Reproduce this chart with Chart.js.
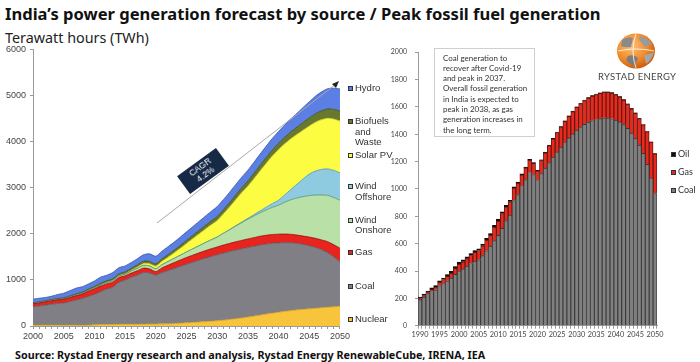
<!DOCTYPE html>
<html><head><meta charset="utf-8">
<script src="https://cdn.jsdelivr.net/npm/chart.js@4.4.1/dist/chart.umd.min.js"></script>
<style>
html,body{margin:0;padding:0;background:#fff;}
body{width:700px;height:362px;overflow:hidden;position:relative;font-family:"Liberation Sans",Arial,sans-serif;color:#222;}
.abs{position:absolute;white-space:nowrap;}
#title{left:5px;top:2px;font-family:"Noto Sans",sans-serif;font-weight:bold;font-size:17px;color:#111;}
#subtitle{left:5px;top:28px;font-family:"Noto Sans",sans-serif;font-size:14px;color:#222;}
#source{left:15px;top:347px;font-family:"Noto Sans",sans-serif;font-weight:bold;font-size:10.5px;color:#111;}
canvas{position:absolute;}
.lg{position:absolute;font-size:9.5px;line-height:10.5px;color:#333;white-space:nowrap;}
.mk{position:absolute;width:5px;height:5px;border:1px solid #333;box-sizing:border-box;}
#note{left:434px;top:48px;width:101px;height:89px;border:1px solid #cfcfcf;box-sizing:border-box;
 font-family:Lato,sans-serif;font-size:8.4px;line-height:10.3px;color:#333;padding:3.5px 0 0 8px;white-space:nowrap;}
#cagr{left:179px;top:160px;width:48px;height:22px;background:#172a45;color:#fff;transform:rotate(-36deg);
 font-size:8.5px;line-height:9.5px;text-align:center;padding-top:1.5px;box-sizing:border-box;}
.rl{position:absolute;font-family:Lato,sans-serif;font-size:9px;line-height:10px;color:#333;white-space:nowrap;}
#brand{left:598px;top:71px;font-family:Lato,sans-serif;font-size:9.5px;color:#444;letter-spacing:0.3px;}
</style>
</head><body>
<div id="title" class="abs">India’s power generation forecast by source / Peak fossil fuel generation</div>
<div id="subtitle" class="abs">Terawatt hours (TWh)</div>
<div id="source" class="abs">Source: Rystad Energy research and analysis, Rystad Energy RenewableCube, IRENA, IEA</div>

<canvas id="left" width="352" height="310" style="left:0;top:40px;width:352px;height:310px"></canvas>
<canvas id="right" width="300" height="310" style="left:370px;top:40px;width:300px;height:310px"></canvas>

<svg class="abs" style="left:0;top:0" width="700" height="362">
  <line x1="157" y1="223" x2="336" y2="84" stroke="#a8a8a8" stroke-width="1"/>
  <polygon points="339,81 332,84 336,88" fill="#222"/>
  <defs><radialGradient id="gl" cx="38%" cy="35%" r="70%"><stop offset="0" stop-color="#fcc27a"/><stop offset="0.6" stop-color="#f08a2a"/><stop offset="1" stop-color="#c8560a"/></radialGradient></defs>
  <ellipse cx="636" cy="51" rx="19" ry="17.5" fill="url(#gl)"/>
  <path d="M622,40 Q628,36 633,38 L631,47 Q625,48 621,46 Z" fill="#8a8a8a"/>
  <path d="M640,36 Q648,38 652,44 L645,47 Q641,42 639,40 Z" fill="#9a9a9a"/>
  <path d="M628,56 Q634,54 638,58 L635,66 Q629,64 626,60 Z" fill="#7d7d7d"/>
  <path d="M644,55 Q650,54 654,52 Q652,60 646,64 Z" fill="#a5a5a5"/>
  <path d="M636,34 Q630,51 636,68" stroke="#fff" stroke-width="0.8" fill="none"/>
  <path d="M618,51 Q636,47 654,51" stroke="#fff" stroke-width="0.8" fill="none"/>
</svg>
<div id="brand" class="abs">RYSTAD ENERGY</div>

<div id="cagr" class="abs">CAGR<br>4.2%</div>

<div id="note" class="abs"><span>Coal generation to</span><br><span>recover after Covid-19</span><br><span>and peak in 2037.</span><br><span id="wide">Overall fossil generation</span><br><span>in India is expected to</span><br><span>peak in 2038, as gas</span><br><span>generation increases in</span><br><span>the long term.</span></div>

<div id="legendL"></div>
<div id="legendR"></div>

<script>
// ---------- DATA ----------
const yearsR = [];            // 1990..2050 categories for the right chart
for (let y = 1990; y <= 2050; y++) yearsR.push(y);
const yearsL = yearsR.slice(10);   // 2000..2050

const coal = [190,208,228,250,262,292,308,328,348,375,
  400,415,435,455,472,482,512,548,582,622,
  660,712,768,808,915,958,1018,1068,1120,1105,
  1062,1112,1152,1192,1232,1270,1305,1340,1373,1403,
  1430,1453,1472,1488,1500,1508,1514,1520,1519,1513,
  1503,1490,1470,1443,1408,1368,1320,1260,1180,1080,966];
const gas = [8,12,14,16,20,26,30,33,36,44,
  50,52,55,58,64,68,72,78,80,98,
  105,108,100,98,92,84,85,86,90,82,
  70,96,112,124,134,142,148,154,158,162,
  166,170,173,176,179,182,185,187,188,188,
  186,183,180,176,178,185,193,208,238,262,290];
const oil = [12,12,12,11,11,11,11,12,14,14,
  15,14,14,14,14,13,13,12,12,14,
  14,12,12,10,9,8,7,6,6,5,
  5,5,5,5,4,4,4,4,4,4,
  4,4,4,4,3,3,3,3,3,3,
  3,3,3,3,3,3,3,2,2,2,2];

const nuclear = [17,19,19,18,17,17,18,17,15,19,
  26,33,33,34,36,38,38,38,39,45,
  43,47,50,55,62,70,78,86,95,105,
  115,128,142,158,175,195,215,237,258,280,
  300,318,335,350,362,373,385,397,408,418,430];
const windOnshore = [2,3,4,5,6,7,9,12,14,17,
  20,24,28,31,33,35,45,53,60,64,
  62,70,80,92,105,120,137,155,175,195,
  215,255,295,340,385,430,470,510,550,590,
  630,690,750,805,855,900,940,975,1005,1025,1040];
const windOffshore = [0,0,0,0,0,0,0,0,0,0,
  0,0,0,0,0,0,0,0,0,0,
  0,0,0,0,0,0,0,0,0,0,
  0,2,5,8,12,18,28,42,60,82,
  107,160,225,300,385,466,520,555,575,588,595];
const solarPV = [0,0,0,0,0,0,0,0,0,0,
  1,2,4,5,6,8,15,28,42,50,
  58,75,95,120,150,185,220,255,290,325,
  360,420,490,565,640,700,785,870,955,1035,
  1100,1110,1100,1080,1060,1045,1060,1080,1100,1115,1125];
const biofuels = [20,21,22,23,24,25,26,28,30,31,
  32,34,36,38,40,42,44,46,48,50,
  48,52,55,58,62,66,70,74,78,82,
  86,90,95,100,105,110,115,120,125,130,
  135,142,150,158,166,175,183,192,200,208,215];
const hydro = [78,78,70,72,86,100,115,125,118,110,
  118,135,120,138,135,130,125,135,140,165,
  165,165,172,175,180,185,190,196,202,208,
  214,218,222,226,230,234,238,242,246,250,
  255,265,280,300,325,350,380,410,440,460,480];

// left chart coal / gas follow the right chart's fossil series (gas incl. oil)
const coalL = coal.slice(10);
const gasL = gas.slice(10).map((g, i) => g + oil[i + 10]);

const leftTicksY = [0,1000,2000,3000,4000,5000,6000];
const rightTicksY = [0,200,400,600,800,1000,1200,1400,1600,1800,2000];

// ---------- TEXT FITTING ----------
function fit(id, w) {
  const el = document.getElementById(id);
  const cur = el.getBoundingClientRect().width;
  const fs = parseFloat(getComputedStyle(el).fontSize);
  el.style.fontSize = (fs * w / cur) + 'px';
}
fit('title', 596); fit('subtitle', 144); fit('source', 471);
(function () {
  const note = document.getElementById('note');
  const w = document.getElementById('wide').getBoundingClientRect().width;
  const fs = parseFloat(getComputedStyle(note).fontSize);
  note.style.fontSize = (fs * 84 / w) + 'px';
})();

// ---------- LEGENDS ----------
const leftLegend = [
  ['Hydro', '#5b7fe3', 88],
  ['Biofuels<br>and<br>Waste', '#68782c', 121.5],
  ['Solar PV', '#fcfc42', 155],
  ['Wind<br>Offshore', '#8fcbe0', 186.7],
  ['Wind<br>Onshore', '#b9e0a6', 220],
  ['Gas', '#e8241e', 252.7],
  ['Coal', '#7f7f85', 286],
  ['Nuclear', '#f8c43c', 319.3]
];
let h = '';
leftLegend.forEach(([t, c, y]) => {
  h += `<div class="mk" style="left:348px;top:${y - 2.5}px;background:${c}"></div>`;
  h += `<div class="lg" style="left:355px;top:${y - 5.5}px">${t}</div>`;
});
document.getElementById('legendL').innerHTML = h;
const rightLegend = [['Oil', '#111', 154], ['Gas', '#e52b1e', 172.7], ['Coal', '#7f7f7f', 190.7]];
h = '';
rightLegend.forEach(([t, c, y]) => {
  h += `<div class="mk" style="left:671px;top:${y - 2.5}px;background:${c}"></div>`;
  h += `<div class="rl" style="left:678px;top:${y - 5.5}px">${t}</div>`;
});
document.getElementById('legendR').innerHTML = h;

// ---------- CHARTS ----------
Chart.defaults.font.family = '"Liberation Sans", Arial, sans-serif';
Chart.defaults.color = '#444';

const leftSeries = [
  ['Nuclear', nuclear, '#f8c43c', '#c89a20'],
  ['Coal', coalL, '#7f7f85', '#55555a'],
  ['Gas', gasL, '#e8241e', '#8b0f0c'],
  ['Wind Onshore', windOnshore, '#b9e0a6', '#4f9170'],
  ['Wind Offshore', windOffshore, '#8fcbe0', '#4f95b2'],
  ['Solar PV', solarPV, '#fcfc42', '#b5b52a'],
  ['Biofuels and Waste', biofuels, '#68782c', '#3e4a18'],
  ['Hydro', hydro, '#5b7fe3', '#3852ad']
];

new Chart(document.getElementById('left'), {
  type: 'line',
  data: {
    datasets: leftSeries.map(([label, vals, fill, border], i) => ({
      label,
      data: vals.map((v, j) => ({ x: yearsL[j], y: v })),
      backgroundColor: fill,
      borderColor: border,
      borderWidth: 0.8,
      fill: i === 0 ? 'origin' : '-1',
      pointRadius: 0,
      tension: 0.25
    }))
  },
  options: {
    responsive: false, animation: false,
    layout: { padding: { top: 7, right: 10, left: 0, bottom: 0 } },
    plugins: { legend: { display: false }, tooltip: { enabled: false } },
    scales: {
      x: {
        type: 'linear', min: 2000, max: 2050,
        ticks: { stepSize: 1, autoSkip: false, maxRotation: 0, padding: 2,
          font: { size: 9 }, color: '#444',
          callback: v => (v % 5 === 0 ? String(v) : '') },
        grid: { drawOnChartArea: false, drawTicks: true, tickLength: 3, color: '#9a9a9a' },
        border: { color: '#9a9a9a' },
        afterFit: s => { s.height = 24; }
      },
      y: {
        stacked: true, min: 0, max: 6000,
        afterBuildTicks: s => { s.ticks = leftTicksY.map(v => ({ value: v })); },
        ticks: { font: { size: 9 }, color: '#444', padding: 4, callback: v => String(v) },
        grid: { drawOnChartArea: false, drawTicks: true, tickLength: 3, color: '#9a9a9a' },
        border: { color: '#9a9a9a' },
        afterFit: s => { s.width = 33; }
      }
    }
  }
});

new Chart(document.getElementById('right'), {
  type: 'bar',
  data: {
    labels: yearsR,
    datasets: [
      { label: 'Coal', data: coal, backgroundColor: '#808080', borderColor: '#383838', borderWidth: 0.9 },
      { label: 'Gas', data: gas, backgroundColor: '#e52b1e', borderColor: '#5a1410', borderWidth: 0.9 },
      { label: 'Oil', data: oil, backgroundColor: '#111111', borderColor: '#111111', borderWidth: 0.5 }
    ]
  },
  options: {
    responsive: false, animation: false,
    layout: { padding: { top: 8, right: 13, left: 0, bottom: 0 } },
    plugins: { legend: { display: false }, tooltip: { enabled: false } },
    datasets: { bar: { barPercentage: 1, categoryPercentage: 1, borderSkipped: 'start' } },
    scales: {
      x: {
        stacked: true,
        ticks: { autoSkip: false, maxRotation: 0, minRotation: 0, padding: 2,
          font: { family: 'Lato, sans-serif', size: 7.3 }, color: '#444',
          callback: (v, i) => (yearsR[i] % 5 === 0 ? String(yearsR[i]) : '') },
        grid: { drawOnChartArea: false, drawTicks: true, tickLength: 3, color: '#9a9a9a' },
        border: { color: '#9a9a9a' },
        afterFit: s => { s.height = 24.3; }
      },
      y: {
        stacked: true, min: 0, max: 2000,
        afterBuildTicks: s => { s.ticks = rightTicksY.map(v => ({ value: v })); },
        ticks: { font: { family: 'Lato, sans-serif', size: 7 }, color: '#444', padding: 8, callback: v => String(v) },
        grid: { drawOnChartArea: false, drawTicks: true, tickLength: 3, color: '#9a9a9a' },
        border: { color: '#9a9a9a' },
        afterFit: s => { s.width = 48; }
      }
    }
  }
});
</script>
</body></html>
